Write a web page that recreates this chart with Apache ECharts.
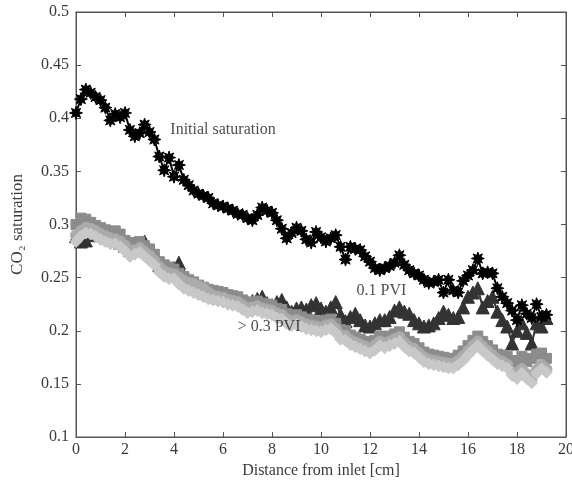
<!DOCTYPE html>
<html>
<head>
<meta charset="utf-8">
<script src="https://cdn.jsdelivr.net/npm/echarts@6/dist/echarts.min.js"></script>
<style>
  html, body { margin: 0; padding: 0; background: #fff; }
  #chart { width: 572px; height: 480px; }
</style>
</head>
<body>
<div id="chart"></div>
<script>
// Measurement positions along the core [cm]
var distance = [0, 0.2, 0.4, 0.6, 0.8, 1.0, 1.2, 1.4, 1.6, 1.8, 2.0, 2.2, 2.4, 2.6, 2.8, 3.0, 3.2, 3.4, 3.6, 3.8,
  4.0, 4.2, 4.4, 4.6, 4.8, 5.0, 5.2, 5.4, 5.6, 5.8, 6.0, 6.2, 6.4, 6.6, 6.8, 7.0, 7.2, 7.4, 7.6, 7.8,
  8.0, 8.2, 8.4, 8.6, 8.8, 9.0, 9.2, 9.4, 9.6, 9.8, 10.0, 10.2, 10.4, 10.6, 10.8, 11.0, 11.2, 11.4, 11.6, 11.8,
  12.0, 12.2, 12.4, 12.6, 12.8, 13.0, 13.2, 13.4, 13.6, 13.8, 14.0, 14.2, 14.4, 14.6, 14.8, 15.0, 15.2, 15.4, 15.6, 15.8,
  16.0, 16.2, 16.4, 16.6, 16.8, 17.0, 17.2, 17.4, 17.6, 17.8, 18.0, 18.2, 18.4, 18.6, 18.8, 19.0, 19.2];

// Initial CO2 saturation profile
var initialSat = [0.405, 0.418, 0.427, 0.424, 0.420, 0.417, 0.410, 0.398, 0.404, 0.401, 0.405, 0.389, 0.383, 0.386, 0.394, 0.387, 0.380, 0.364, 0.351, 0.363,
  0.345, 0.356, 0.342, 0.337, 0.332, 0.329, 0.327, 0.325, 0.320, 0.318, 0.317, 0.315, 0.313, 0.310, 0.309, 0.306, 0.304, 0.309, 0.316, 0.313,
  0.311, 0.304, 0.296, 0.287, 0.292, 0.297, 0.294, 0.286, 0.283, 0.293, 0.288, 0.284, 0.287, 0.290, 0.279, 0.267, 0.279, 0.277, 0.276, 0.270,
  0.265, 0.259, 0.257, 0.259, 0.261, 0.264, 0.271, 0.262, 0.257, 0.254, 0.252, 0.248, 0.245, 0.246, 0.248, 0.236, 0.248, 0.238, 0.236, 0.247,
  0.252, 0.257, 0.268, 0.254, 0.255, 0.254, 0.240, 0.232, 0.226, 0.219, 0.210, 0.224, 0.216, 0.212, 0.225, 0.213, 0.215];

// After 0.1 pore volume injected
var pvi01 = [0.289, 0.284, 0.285, 0.290, 0.292, 0.290, 0.288, 0.286, 0.285, 0.283, 0.280, 0.276, 0.278, 0.280, 0.284, 0.274, 0.268, 0.262, 0.258, 0.256,
  0.259, 0.264, 0.252, 0.248, 0.244, 0.242, 0.240, 0.238, 0.236, 0.235, 0.234, 0.233, 0.232, 0.230, 0.228, 0.227, 0.228, 0.230, 0.232, 0.226,
  0.224, 0.227, 0.229, 0.222, 0.218, 0.221, 0.222, 0.220, 0.224, 0.226, 0.221, 0.218, 0.222, 0.227, 0.215, 0.209, 0.213, 0.216, 0.210, 0.205,
  0.204, 0.207, 0.210, 0.210, 0.213, 0.219, 0.222, 0.218, 0.216, 0.210, 0.207, 0.204, 0.205, 0.207, 0.212, 0.218, 0.215, 0.212, 0.213, 0.222,
  0.232, 0.236, 0.240, 0.222, 0.228, 0.232, 0.218, 0.210, 0.204, 0.188, 0.200, 0.207, 0.198, 0.188, 0.207, 0.204, 0.212];

// Later injection stages (> 0.3 PVI)
var pviA = [0.300, 0.306, 0.305, 0.302, 0.299, 0.297, 0.295, 0.293, 0.294, 0.291, 0.285, 0.281, 0.283, 0.284, 0.280, 0.277, 0.272, 0.265, 0.262, 0.260,
  0.258, 0.254, 0.251, 0.248, 0.246, 0.243, 0.241, 0.239, 0.238, 0.237, 0.236, 0.234, 0.233, 0.232, 0.229, 0.226, 0.227, 0.228, 0.226, 0.225,
  0.224, 0.221, 0.220, 0.216, 0.214, 0.215, 0.213, 0.211, 0.210, 0.209, 0.208, 0.210, 0.211, 0.207, 0.201, 0.200, 0.196, 0.194, 0.192, 0.190,
  0.188, 0.191, 0.195, 0.193, 0.195, 0.197, 0.199, 0.194, 0.190, 0.188, 0.184, 0.180, 0.178, 0.177, 0.176, 0.175, 0.174, 0.174, 0.177, 0.181,
  0.186, 0.191, 0.195, 0.190, 0.186, 0.182, 0.178, 0.177, 0.176, 0.170, 0.172, 0.176, 0.171, 0.174, 0.178, 0.179, 0.174];

var pviB = [0.290, 0.294, 0.297, 0.296, 0.294, 0.291, 0.289, 0.287, 0.286, 0.284, 0.280, 0.275, 0.276, 0.278, 0.274, 0.271, 0.266, 0.260, 0.256, 0.254,
  0.253, 0.250, 0.247, 0.245, 0.244, 0.242, 0.240, 0.236, 0.233, 0.232, 0.231, 0.229, 0.228, 0.227, 0.224, 0.221, 0.222, 0.223, 0.221, 0.220,
  0.219, 0.216, 0.215, 0.211, 0.209, 0.210, 0.208, 0.206, 0.205, 0.204, 0.203, 0.205, 0.206, 0.202, 0.196, 0.195, 0.191, 0.189, 0.187, 0.185,
  0.183, 0.186, 0.190, 0.188, 0.190, 0.192, 0.194, 0.189, 0.185, 0.183, 0.179, 0.175, 0.173, 0.172, 0.171, 0.170, 0.169, 0.169, 0.172, 0.176,
  0.181, 0.186, 0.190, 0.185, 0.181, 0.177, 0.173, 0.171, 0.168, 0.161, 0.159, 0.164, 0.159, 0.155, 0.163, 0.168, 0.164];

var pviC = [0.284, 0.289, 0.292, 0.291, 0.289, 0.286, 0.284, 0.282, 0.282, 0.279, 0.275, 0.270, 0.272, 0.274, 0.270, 0.266, 0.262, 0.255, 0.251, 0.249,
  0.249, 0.244, 0.240, 0.238, 0.236, 0.234, 0.232, 0.230, 0.229, 0.228, 0.227, 0.225, 0.224, 0.223, 0.220, 0.217, 0.218, 0.219, 0.217, 0.216,
  0.215, 0.212, 0.211, 0.207, 0.205, 0.206, 0.204, 0.202, 0.201, 0.200, 0.199, 0.201, 0.202, 0.198, 0.192, 0.191, 0.187, 0.185, 0.183, 0.181,
  0.179, 0.182, 0.186, 0.184, 0.186, 0.188, 0.190, 0.185, 0.181, 0.179, 0.175, 0.171, 0.169, 0.168, 0.167, 0.166, 0.165, 0.165, 0.168, 0.172,
  0.177, 0.182, 0.186, 0.181, 0.177, 0.173, 0.169, 0.167, 0.165, 0.158, 0.155, 0.160, 0.155, 0.151, 0.160, 0.164, 0.161];

// Axis ticks
var xTicks = { min: 0, max: 20, step: 2 };
var yTicks = { min: 0.1, max: 0.5, step: 0.05 };

// Curve annotations: [x, y, text]
var notes = [
  [3.85, 0.389, 'Initial saturation'],
  [11.45, 0.238, '0.1 PVI'],
  [6.6, 0.204, '> 0.3 PVI']
];

function pairs(ys) { return distance.map(function (x, i) { return [x, ys[i]]; }); }

// eight-spoke asterisk marker
function asteriskPath() {
  var n = 8, d = '';
  for (var i = 0; i < 2 * n; i++) {
    var r = (i % 2) ? 0.5 : 1;
    var a = i * Math.PI / n - Math.PI / 2;
    var px = (50 + 50 * r * Math.cos(a)).toFixed(2);
    var py = (50 + 50 * r * Math.sin(a)).toFixed(2);
    d += (i === 0 ? 'M' : 'L') + px + ' ' + py + ' ';
  }
  return 'path://' + d + 'Z';
}

var serif = '"Liberation Serif", "DejaVu Serif", serif';
var textColor = '#3a3a3a';
var frameColor = '#555';

function fmt(v) { return String(Math.round(v * 100) / 100); }

var chart = echarts.init(document.getElementById('chart'), null, { renderer: 'canvas' });

chart.setOption({
  animation: false,
  backgroundColor: '#fff',
  grid: {
    left: 76, right: 6, top: 12, bottom: 43,
    outerBoundsMode: 'none', containLabel: false,
    show: true, borderColor: frameColor, borderWidth: 1
  },
  xAxis: [{
    type: 'value', min: xTicks.min, max: xTicks.max, interval: xTicks.step,
    name: 'Distance from inlet [cm]', nameLocation: 'middle', nameGap: 22,
    nameTextStyle: { fontFamily: serif, fontSize: 16, color: textColor },
    axisLine: { onZero: false, lineStyle: { color: frameColor } },
    axisTick: { inside: true, length: 5, lineStyle: { color: frameColor } },
    axisLabel: { fontFamily: serif, fontSize: 16, color: textColor, margin: 5, formatter: fmt },
    splitLine: { show: false }
  }, {
    type: 'value', position: 'top', min: xTicks.min, max: xTicks.max, interval: xTicks.step,
    axisLine: { onZero: false, lineStyle: { color: frameColor } },
    axisTick: { inside: true, length: 5, lineStyle: { color: frameColor } },
    axisLabel: { show: false }, splitLine: { show: false }
  }],
  yAxis: [{
    type: 'value', min: yTicks.min, max: yTicks.max, interval: yTicks.step,
    name: 'CO\u2082 saturation', nameLocation: 'middle', nameGap: 50, nameRotate: 90,
    nameTextStyle: { fontFamily: serif, fontSize: 17, color: textColor },
    axisLine: { onZero: false, lineStyle: { color: frameColor } },
    axisTick: { inside: true, length: 5, lineStyle: { color: frameColor } },
    axisLabel: { fontFamily: serif, fontSize: 16, color: textColor, margin: 7, formatter: fmt },
    splitLine: { show: false }
  }, {
    type: 'value', position: 'right', min: yTicks.min, max: yTicks.max, interval: yTicks.step,
    axisLine: { onZero: false, lineStyle: { color: frameColor } },
    axisTick: { inside: true, length: 5, lineStyle: { color: frameColor } },
    axisLabel: { show: false }, splitLine: { show: false }
  }],
  series: [
    {
      name: '0.1 PVI', type: 'line', data: pairs(pvi01), z: 2,
      symbol: 'triangle', symbolSize: 13,
      itemStyle: { color: '#333', borderColor: '#333' },
      lineStyle: { color: '#333', width: 2 }
    },
    {
      name: 'PVI A', type: 'line', data: pairs(pviA), z: 3,
      symbol: 'rect', symbolSize: 10,
      itemStyle: { color: '#8c8c8c', borderColor: '#8c8c8c' },
      lineStyle: { color: '#8c8c8c', width: 2 }
    },
    {
      name: 'PVI B', type: 'line', data: pairs(pviB), z: 4,
      symbol: 'circle', symbolSize: 11,
      itemStyle: { color: '#ababab', borderColor: '#ababab' },
      lineStyle: { color: '#b8b8b8', width: 1.5, type: 'dashed' }
    },
    {
      name: 'PVI C', type: 'line', data: pairs(pviC), z: 5,
      symbol: 'diamond', symbolSize: 12,
      itemStyle: { color: '#c8c8c8', borderColor: '#c8c8c8' },
      lineStyle: { color: '#e8e8e8', width: 1.5, type: 'dashed' }
    },
    {
      name: 'Initial saturation', type: 'line', data: pairs(initialSat), z: 6,
      symbol: asteriskPath(), symbolSize: 13,
      itemStyle: { color: '#000', borderColor: '#000' },
      lineStyle: { color: '#000', width: 2 }
    },
    {
      name: 'notes', type: 'scatter', z: 7, symbolSize: 0,
      data: notes.map(function (n) { return { value: [n[0], n[1]], label: { formatter: n[2] } }; }),
      label: {
        show: true, position: 'right', distance: 0,
        fontFamily: serif, fontSize: 16, color: '#222'
      },
      silent: true
    }
  ]
});
</script>
</body>
</html>
